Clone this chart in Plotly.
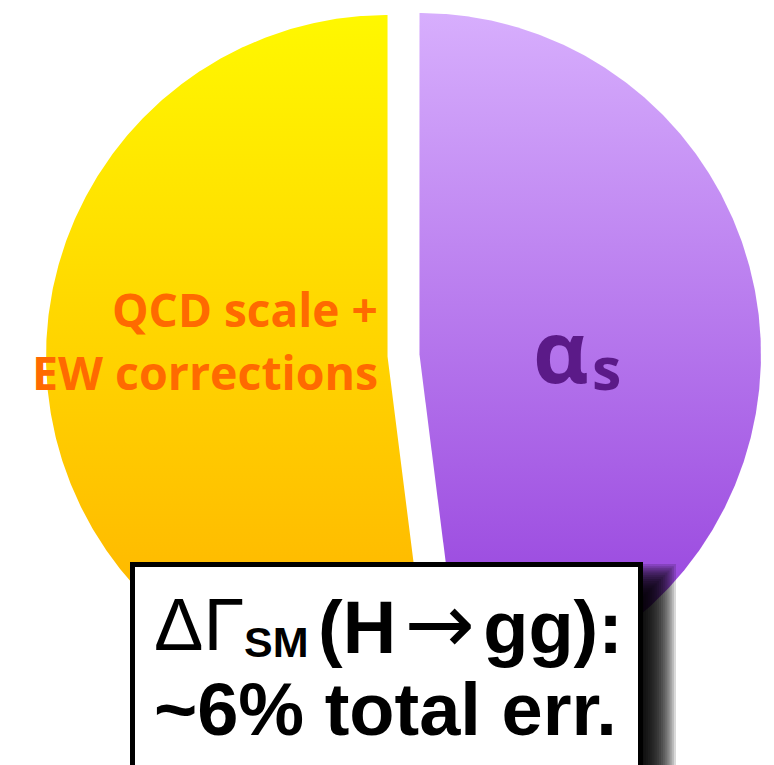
import numpy as np
import plotly.graph_objects as go

# Shares of the SM H->gg width uncertainty (percent), clockwise from 12 o'clock
labels = ["αs", "QCD scale + EW corrections"]
shares = [48, 52]
# vertical gradient for each slice: (top colour, bottom colour)
top_colors = ["#D7AEFD", "#FFF800"]
bottom_colors = ["#9038DA", "#FFAE00"]

W, H = 774, 765
cx, cy, R, pull = 403.5, 355.5, 341.5, 16.0

fig = go.Figure()

total = float(sum(shares))
angle = 0.0
for lab, val, ctop, cbot in zip(labels, shares, top_colors, bottom_colors):
    span = 360.0 * val / total
    th = np.radians(np.linspace(angle, angle + span, 500))
    mid = np.radians(angle + span / 2)
    ox = cx + pull * np.sin(mid)
    oy = cy - pull * np.cos(mid)
    xs = np.concatenate([[ox], ox + R * np.sin(th), [ox]])
    ys = np.concatenate([[oy], oy - R * np.cos(th), [oy]])
    fig.add_trace(go.Scatter(
        x=xs, y=ys, mode="lines", name=lab,
        line=dict(width=0, color=ctop),
        fill="toself",
        fillgradient=dict(type="vertical",
                          colorscale=[[0, ctop], [1, cbot]],
                          start=cy - R, stop=cy + R),
        hoverinfo="skip", showlegend=False,
    ))
    angle += span

# soft drop shadow behind the caption box
shapes = []
n_layers = 16
blur = 16.0
for k in range(n_layers):
    d = -blur + 2 * blur * k / (n_layers - 1)
    shapes.append(dict(type="rect", xref="x", yref="y", layer="above",
                       x0=150, x1=660 + d, y0=580 - d, y1=820,
                       line=dict(width=0), fillcolor="black", opacity=0.15))
# caption box
shapes.append(dict(type="rect", xref="x", yref="y", layer="above",
                   x0=132.5, x1=640.5, y0=564.5, y1=800,
                   line=dict(color="black", width=5), fillcolor="white"))


def mid_from_baseline(baseline, size, k):
    return baseline - k * size


K_LIB = 0.3465   # Liberation Sans
K_OS = 0.388     # Open Sans

orange = "#FF6A00"
violet = "#5B1A88"
ann = []
# slice labels
ann.append(dict(text="<b>QCD scale +</b>", x=380, y=mid_from_baseline(327, 46, K_OS),
                xanchor="right", yanchor="middle",
                font=dict(family="Open Sans", size=46, color=orange)))
ann.append(dict(text="<b>EW corrections</b>", x=380, y=mid_from_baseline(390, 46.5, K_OS),
                xanchor="right", yanchor="middle",
                font=dict(family="Open Sans", size=46.5, color=orange)))
ann.append(dict(text="<b>α</b>", x=531, y=mid_from_baseline(383, 86, K_OS),
                xanchor="left", yanchor="middle",
                font=dict(family="Open Sans", size=86, color=violet)))
ann.append(dict(text="<b>s</b>", x=590, y=mid_from_baseline(390, 59, K_OS),
                xanchor="left", yanchor="middle",
                font=dict(family="Open Sans", size=59, color=violet)))
# caption text
ann.append(dict(text="ΔΓ", x=246, y=mid_from_baseline(650, 74, K_LIB),
                xanchor="right", yanchor="middle",
                font=dict(family="Liberation Sans", size=74, color="black")))
ann.append(dict(text="<b>SM</b>", x=242, y=mid_from_baseline(657, 43, K_LIB),
                xanchor="left", yanchor="middle",
                font=dict(family="Liberation Sans", size=43, color="black")))
ann.append(dict(text="<b>(H</b><span style='font-family:DejaVu Sans;font-size:84px'>\u200a→\u200a</span><b>gg):</b>",
                x=316, y=mid_from_baseline(650, 74, K_LIB),
                xanchor="left", yanchor="middle",
                font=dict(family="Liberation Sans", size=74, color="black")))
ann.append(dict(text="<b>~6% total err.</b>", x=385, y=mid_from_baseline(735, 74, K_LIB),
                xanchor="center", yanchor="middle",
                font=dict(family="Liberation Sans", size=74, color="black")))
for a in ann:
    a.update(xref="x", yref="y", showarrow=False)

fig.update_layout(
    width=W, height=H,
    margin=dict(l=0, r=0, t=0, b=0),
    paper_bgcolor="white", plot_bgcolor="white",
    xaxis=dict(range=[0, W], visible=False, fixedrange=True),
    yaxis=dict(range=[H, 0], visible=False, fixedrange=True),
    shapes=shapes, annotations=ann, showlegend=False,
)

fig.write_html("out.html")
